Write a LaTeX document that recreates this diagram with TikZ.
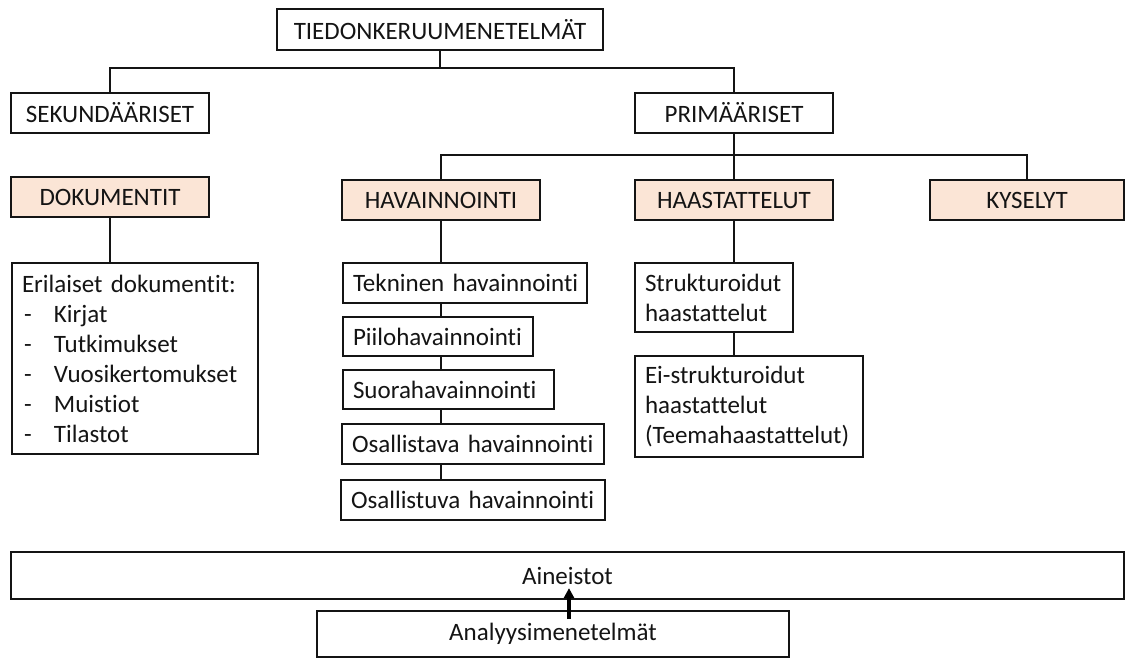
\documentclass[tikz,border=0pt]{standalone}
\usepackage{fontspec}
\setmainfont{Carlito}[Ligatures={NoCommon}]
\usetikzlibrary{arrows.meta,calc}
\definecolor{peach}{HTML}{FBE5D6}
\definecolor{ink}{HTML}{141414}
\begin{document}
\begin{tikzpicture}[x=1pt,y=-1pt,
  txt/.style={font=\fontsize{25}{30}\selectfont, text=ink},
  mainbox/.style={txt, draw=ink, line width=1.8pt, inner sep=0pt, fill=white},
  catbox/.style={mainbox, fill=peach},
  subbox/.style={txt, draw=ink, line width=1.2pt, inner sep=0pt, fill=white},
  leftbox/.style={subbox, align=left, inner xsep=10pt},
  wide/.style={txt, draw=ink, line width=2.2pt, inner sep=0pt, fill=white},
  link/.style={draw=ink, line width=1.8pt},
  thinlink/.style={draw=ink, line width=1.4pt},
  uparrow/.style={draw=black, line width=3.2pt, -{Triangle[length=10pt,width=10pt]}}]
\useasboundingbox (0,0) rectangle (1126,659);

% hierarchy: top level
\node[mainbox, minimum width=326pt, minimum height=41pt] (top) at (440,29.5) {TIEDONKERUUMENETELMÄT};
\node[mainbox, minimum width=198pt, minimum height=40pt] (sek) at (110,113) {SEKUNDÄÄRISET};
\node[mainbox, minimum width=198pt, minimum height=40pt] (prim) at (734,113) {PRIMÄÄRISET};

% data collection categories
\node[catbox, minimum width=198pt, minimum height=40pt] (dok) at (110,197) {DOKUMENTIT};
\node[catbox, minimum width=198pt, minimum height=40pt] (hav) at (441,200) {HAVAINNOINTI};
\node[catbox, minimum width=198pt, minimum height=40pt] (haas) at (734,200) {HAASTATTELUT};
\node[catbox, minimum width=194pt, minimum height=40pt] (kys) at (1027,200) {KYSELYT};

% documents
\node[leftbox, minimum width=246pt, minimum height=191pt, text width=226pt] (eri) at (135,358.5)
  {Erilaiset dokumentit:\\
   \makebox[32pt][l]{\hspace{2pt}-}Kirjat\\
   \makebox[32pt][l]{\hspace{2pt}-}Tutkimukset\\
   \makebox[32pt][l]{\hspace{2pt}-}Vuosikertomukset\\
   \makebox[32pt][l]{\hspace{2pt}-}Muistiot\\
   \makebox[32pt][l]{\hspace{2pt}-}Tilastot};

% observation methods
\node[leftbox, minimum width=244pt, minimum height=40pt, text width=224pt] (tek) at (465,283) {\mbox{Tekninen havainnointi}};
\node[leftbox, minimum width=190pt, minimum height=39pt, text width=170pt] (pii) at (438,336.5) {\mbox{Piilohavainnointi}};
\node[leftbox, minimum width=211pt, minimum height=39pt, text width=191pt] (suo) at (448.5,389.5) {\mbox{Suorahavainnointi}};
\node[leftbox, minimum width=262pt, minimum height=40pt, text width=242pt] (osa) at (473,444) {\mbox{Osallistava havainnointi}};
\node[leftbox, minimum width=264pt, minimum height=40pt, text width=244pt] (osu) at (473,500) {\mbox{Osallistuva havainnointi}};

% interview types
\node[leftbox, minimum width=158pt, minimum height=69pt, text width=138pt] (str) at (714,297.5) {Strukturoidut\\haastattelut};
\node[leftbox, minimum width=228pt, minimum height=101pt, text width=208pt] (eis) at (749,406.5) {Ei-strukturoidut\\haastattelut\\(Teemahaastattelut)};

% material and analysis
\node[wide, minimum width=1113pt, minimum height=47pt] (ain) at (567.5,575.5) {Aineistot};
\node[wide, line width=1.9pt, minimum width=472pt, minimum height=46pt] (ana) at (553,634) {Analyysimenetelmät};

% branching connectors
\coordinate (j1) at (440,68);
\coordinate (j2) at (734,155);
\draw[link] (top.south) -- (j1);
\draw[link] (sek.north) |- (j1) -| (prim.north);
\draw[link] (prim.south) -- (haas.north);
\draw[link] (hav.north) |- (j2) -| (kys.north);
\draw[link] (dok.south) -- (dok.south |- eri.north);
\draw[link] (hav.south) -- (hav.south |- tek.north);
\draw[link] (haas.south) -- (haas.south |- str.north);
\draw[thinlink] (tek.south -| hav.south) -- (pii.north -| hav.south);
\draw[thinlink] (pii.south -| hav.south) -- (suo.north -| hav.south);
\draw[thinlink] (suo.south -| hav.south) -- (osa.north -| hav.south);
\draw[thinlink] (osa.south -| hav.south) -- (osu.north -| hav.south);
\draw[thinlink] (str.south -| haas.south) -- (eis.north -| haas.south);

% analysis feeds the material
\draw[uparrow] ($(ana.north)+(16,9)$) -- ($(ain.south)+(1.5,-12)$);
\end{tikzpicture}
\end{document}
